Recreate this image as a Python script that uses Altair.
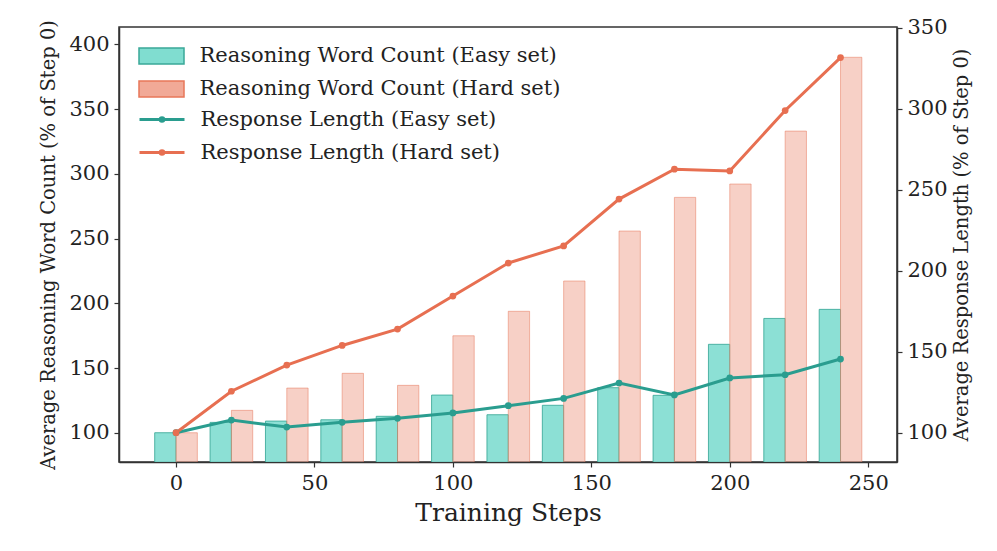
import altair as alt
import pandas as pd

# ---- data ----
steps = [0, 20, 40, 60, 80, 100, 120, 140, 160, 180, 200, 220, 240]
easy_words = [100, 108, 109, 110, 112.7, 129.1, 113.9, 121.2, 134.8, 128.9, 168.3, 188.3, 195.3]
hard_words = [100, 117.3, 134.5, 145.9, 136.6, 174.9, 193.8, 217.2, 255.8, 281.8, 292.1, 333, 390]
easy_len = [100, 107.8, 103.5, 106.4, 108.9, 112.2, 116.7, 121.2, 130.7, 123.3, 133.8, 135.8, 145.5]
hard_len = [100, 125.6, 141.8, 153.9, 164, 184.4, 204.8, 215.4, 244.3, 262.8, 261.7, 299, 331.7]

bar_names = ["Reasoning Word Count (Easy set)", "Reasoning Word Count (Hard set)"]
line_names = ["Response Length (Easy set)", "Response Length (Hard set)"]
x_ticks = [0, 50, 100, 150, 200, 250]
yl_ticks = [100, 150, 200, 250, 300, 350, 400]
yr_ticks = [100, 150, 200, 250, 300, 350]

BAR_W = 7.7
rows = []
for s, e, h in zip(steps, easy_words, hard_words):
    rows.append({"bar_series": bar_names[0], "x0": s - BAR_W, "x1": s, "value": e})
    rows.append({"bar_series": bar_names[1], "x0": s, "x1": s + BAR_W, "value": h})
bar_df = pd.DataFrame(rows)

lrows = []
for s, e, h in zip(steps, easy_len, hard_len):
    lrows.append({"line_series": line_names[0], "step": s, "value": e})
    lrows.append({"line_series": line_names[1], "step": s, "value": h})
line_df = pd.DataFrame(lrows)

FONT = "DejaVu Serif"
TXT = "#222222"

x_scale = alt.Scale(domain=[-20.6, 260.4], nice=False, zero=False)
x_axis = alt.Axis(values=x_ticks, title="Training Steps", titleFontSize=25,
                  titleFontWeight="normal", titlePadding=7, format="d")

legend_common = dict(title=None, orient="none", labelFont=FONT, labelFontSize=21,
                     labelColor=TXT, labelLimit=600, symbolSize=900, symbolOffset=7.5,
                     labelOffset=22, rowPadding=6, padding=0)

bar_legend = alt.Legend(symbolType="M-1.5,-0.533H1.5V0.533H-1.5Z", symbolStrokeWidth=1.5,
                        legendX=19, legendY=13, **legend_common)

bars = alt.Chart(bar_df).mark_bar(clip=True, strokeWidth=1).encode(
    x=alt.X("x0:Q", scale=x_scale, axis=x_axis),
    x2="x1:Q",
    y=alt.Y("value:Q", scale=alt.Scale(domain=[77.4, 413.4], nice=False, zero=False),
            axis=alt.Axis(values=yl_ticks, title="Average Reasoning Word Count (% of Step 0)",
                          titleFontSize=19.5, titleFontWeight="normal", titlePadding=10)),
    y2=alt.datum(0),
    fill=alt.Fill("bar_series:N", scale=alt.Scale(domain=bar_names, range=["#80ddd0", "#f1a997"]),
                  legend=bar_legend),
    stroke=alt.Stroke("bar_series:N", scale=alt.Scale(domain=bar_names, range=["#3aa898", "#e8775a"]),
                      legend=bar_legend),
    fillOpacity=alt.FillOpacity("bar_series:N", scale=alt.Scale(domain=bar_names, range=[0.9, 0.55]),
                                legend=None),
    strokeOpacity=alt.StrokeOpacity("bar_series:N", scale=alt.Scale(domain=bar_names, range=[0.85, 0.5]),
                                    legend=None),
)

line_legend = alt.Legend(
    symbolType="M-1.5,0H1.5M0,-0.12A0.12,0.12 0 1,1 0,0.12A0.12,0.12 0 1,1 0,-0.12",
    symbolStrokeWidth=3, legendX=19, legendY=76, **legend_common)

line_base = alt.Chart(line_df).encode(
    x=alt.X("step:Q", scale=x_scale, axis=x_axis),
    y=alt.Y("value:Q", scale=alt.Scale(domain=[81.9, 350.6], nice=False, zero=False),
            axis=alt.Axis(values=yr_ticks, orient="right", title="Average Response Length (% of Step 0)",
                          titleFontSize=19.5, titleFontWeight="normal", titleAngle=270,
                          titleBaseline="top", titlePadding=5)),
    color=alt.Color("line_series:N", scale=alt.Scale(domain=line_names, range=["#2a9d8f", "#e76f51"]),
                    legend=line_legend),
)
lines = alt.layer(
    line_base.mark_line(strokeWidth=3),
    line_base.mark_circle(size=45, opacity=1),
)

chart = alt.layer(bars, lines).resolve_scale(y="independent").properties(
    width=778, height=435,
    padding={"left": 111, "top": 19, "right": 92, "bottom": 81},
    autosize=alt.AutoSizeParams(type="none"),
).configure_view(
    stroke="#333333", strokeWidth=1.5
).configure_axis(
    labelFont=FONT, labelFontSize=21, labelColor=TXT, titleFont=FONT, titleColor=TXT,
    domainColor="#333333", domainWidth=1.5, tickColor="#333333", tickWidth=1.2,
    tickSize=5, grid=False, labelPadding=5,
)

chart.save("out.html", embed_options={"renderer": "svg", "actions": False})
